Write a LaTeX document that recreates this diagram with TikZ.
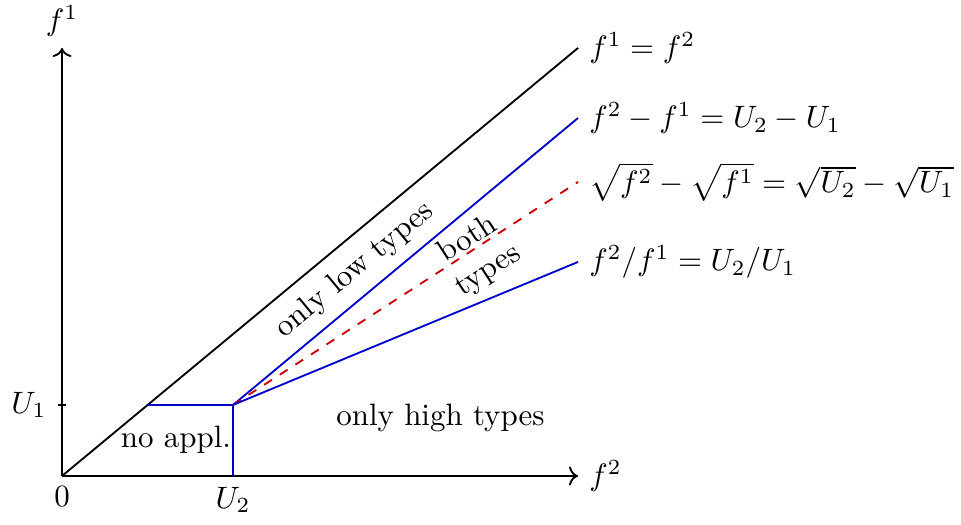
\documentclass[tikz,border=0pt]{standalone}
\usepackage{amsmath, amssymb}
\usetikzlibrary{positioning,arrows.meta}
\tikzset{
  axisline/.style={->, semithick},
  bound/.style={semithick, blue!80!black},
  midbound/.style={semithick, dashed, red!80!black},
  diagline/.style={semithick, black},
  regionlabel/.style={align=center, inner sep=1pt}
}

\begin{document}
\begin{tikzpicture}
  \useasboundingbox (-0.705,-0.557) rectangle (10.216,5.409);
  % corner points
  \coordinate (O) at (0,0);
  \coordinate (xend) at (5.864,0);
  \coordinate (yend) at (0,4.864);
  \coordinate (K) at (1.943,0.807);
  \coordinate (Kx) at (1.943,0);
  \coordinate (Ky) at (0.973,0.807);
  \coordinate (diagend) at (5.864,4.864);
  \coordinate (diffend) at (5.864,4.068);
  \coordinate (rootend) at (5.864,3.341);
  \coordinate (ratioend) at (5.864,2.432);
  \coordinate (tickL) at (-0.05,0.807);
  \coordinate (tickR) at (0.05,0.807);

  % axes
  \draw[axisline] (O) -- (xend) node[right] (fx) {$f^2$};
  \draw[axisline] (O) -- (yend) node[above] (fy) {$f^1$};
  \draw[semithick] (tickR) -- (tickL) node[left] (u1) {$U_1$};
  \node[below] (zero) at (O) {$0$};
  \node[below] (u2) at (Kx) {$U_2$};

  % boundaries
  \draw[diagline] (O) -- (diagend) node[right] (l1) {$f^1 = f^2$};
  \draw[bound] (Ky) -- (K) -- (Kx);
  \draw[bound] (K) -- (diffend) node[right, black] (l2) {$f^2 - f^1 = U_2 - U_1$};
  \draw[midbound] (K) -- (rootend) node[right, black] (l3) {$\sqrt{f^2} - \sqrt{f^1} = \sqrt{U_2} - \sqrt{U_1}$};
  \draw[bound] (K) -- (ratioend) node[right, black] (l4) {$f^2 / f^1 = U_2 / U_1$};

  % regions
  \node[regionlabel, rotate=39.7] (low) at (3.33,2.34) {only low types};
  \node[regionlabel, rotate=33] (both) at (4.73,2.51) {both\\types};
  \node[regionlabel] (high) at (4.30,0.66) {only high types};
  \node[regionlabel] (none) at (1.295,0.41) {no appl.};
\end{tikzpicture}
\end{document}
